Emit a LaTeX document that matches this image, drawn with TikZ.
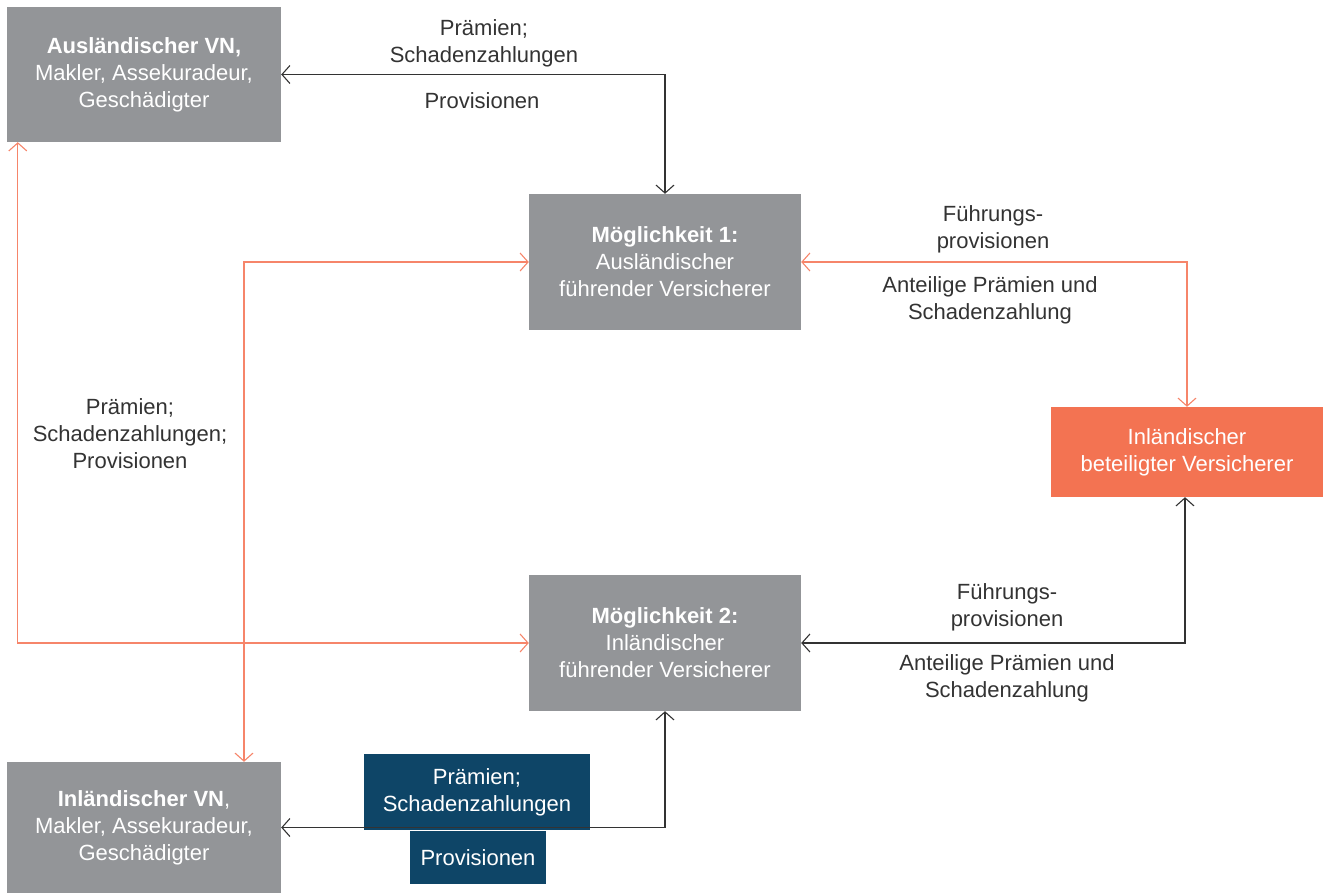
\documentclass[tikz,border=0pt]{standalone}
\usepackage{fontspec}
\setmainfont{Liberation Sans}
\usepackage{xcolor}
\usetikzlibrary{arrows.meta}

\definecolor{boxgray}{HTML}{939598}
\definecolor{orangebox}{HTML}{F37352}
\definecolor{orangeline}{HTML}{F6856A}
\definecolor{navy}{HTML}{0E4567}
\definecolor{txt}{HTML}{333333}

\begin{document}
\begin{tikzpicture}[x=1pt,y=-1pt,
		every node/.style={font=\fontsize{22}{27}\selectfont, align=center},
		partner/.style={fill=boxgray, text=white, inner sep=0pt, minimum width=274pt, minimum height=135pt},
		leader/.style={fill=boxgray, text=white, inner sep=0pt, minimum width=272pt, minimum height=136pt},
		label/.style={text=txt},
		flowblk/.style={draw=txt, line width=1.1pt, {Straight Barb[length=8pt,width=18pt]}-{Straight Barb[length=8pt,width=18pt]}},
		floworg/.style={draw=orangeline, line width=1.1pt, {Straight Barb[length=8pt,width=18pt]}-{Straight Barb[length=8pt,width=18pt]}}]
			\useasboundingbox (0,0) rectangle (1325,894);
			
			% Boxen
			\node[partner] (avn) at (144,74.5) {\textbf{Ausländischer VN,}\\Makler, Assekuradeur,\\Geschädigter};
			\node[partner, minimum height=131pt] (ivn) at (144,827.5) {\textbf{Inländischer VN}, \\Makler, Assekuradeur,\\Geschädigter};
			\node[leader] (m1) at (665,262) {\textbf{Möglichkeit 1:}\\Ausländischer\\führender Versicherer};
			\node[leader] (m2) at (665,643) {\textbf{Möglichkeit 2:}\\Inländischer\\führender Versicherer};
			\node[fill=orangebox, text=white, inner sep=0pt, minimum width=272pt, minimum height=90pt] (ibv) at (1187,452) {Inländischer\\beteiligter Versicherer};
			
			% Verbindungen
			\draw[flowblk] (avn.east) -| (m1.north);
			\draw[floworg] ([xshift=11pt]avn.south west) |- (m2.west);
			\draw[floworg] (m1.west) -| ([xshift=100pt]ivn.north);
			\draw[floworg] (m1.east) -| (ibv.north);
			\draw[flowblk] (m2.east) -| ([xshift=-2pt]ibv.south);
			
			% Beschriftungen
			\node[label] (l1) at (484,43.5) {Prämien;\\Schadenzahlungen};
			\node[label] (l2) at (482,101) {Provisionen};
			\node[label] (l3) at (130,434) {Prämien;\\Schadenzahlungen;\\Provisionen};
			\node[label] (l4) at (993,229.5) {Führungs-\\provisionen};
			\node[label] (l5) at (990,300.5) {Anteilige Prämien und\\Schadenzahlung};
			\node[label] (l6) at (1007,607.5) {Führungs-\\provisionen};
			\node[label] (l7) at (1007,678.5) {Anteilige Prämien und\\Schadenzahlung};
			\node[fill=navy, text=white, inner sep=0pt, minimum width=226pt, minimum height=76pt] (b1) at (477,792) {Prämien;\\Schadenzahlungen};
			\node[fill=navy, text=white, inner sep=0pt, minimum width=136pt, minimum height=53pt] (b2) at (478,857.5) {Provisionen};
			\draw[flowblk] (m2.south) |- (ivn.east);
		\end{tikzpicture}
\end{document}
